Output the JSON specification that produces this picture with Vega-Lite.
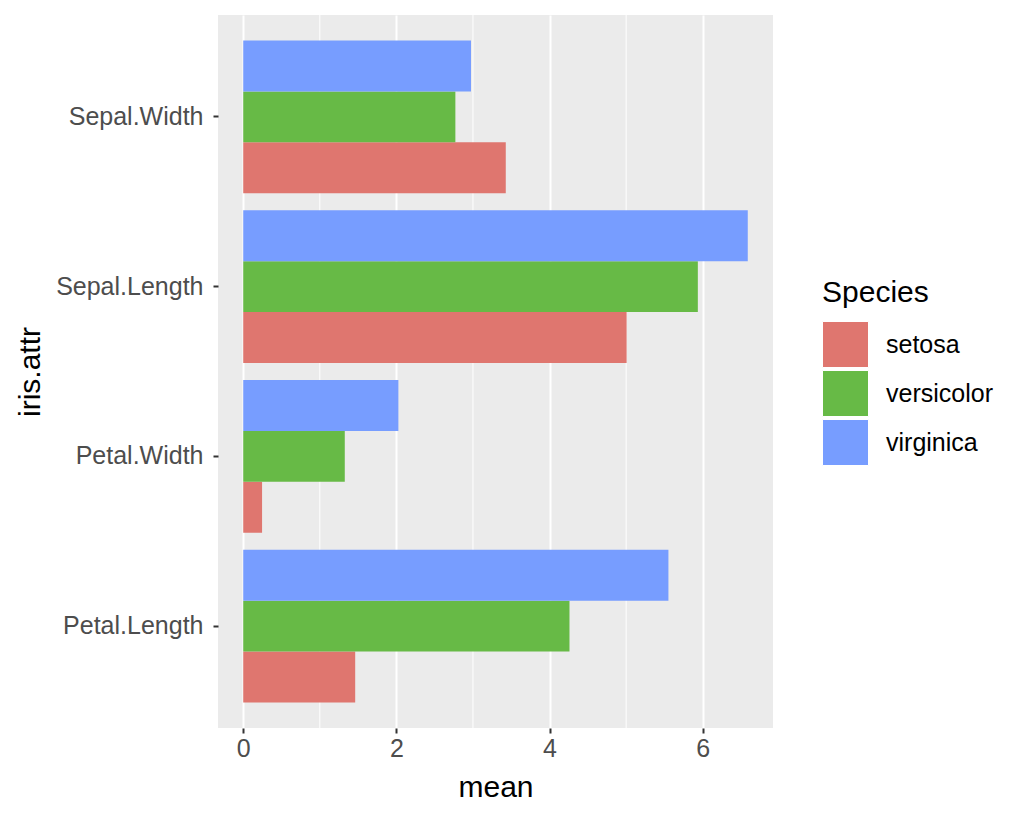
{
  "$schema": "https://vega.github.io/schema/vega-lite/v6.json",
  "width": 555,
  "height": 713,
  "autosize": {"type": "none"},
  "padding": {"left": 218, "top": 15, "right": 251, "bottom": 91},
  "background": "white",
  "config": {
    "view": {"fill": "#EBEBEB", "stroke": null},
    "font": "Liberation Sans",
    "axis": {
      "domain": false,
      "gridColor": "white",
      "gridWidth": 2,
      "tickColor": "#333333",
      "tickWidth": 2,
      "tickSize": 5,
      "labelFontSize": 25,
      "labelColor": "#4D4D4D",
      "labelFont": "Liberation Sans",
      "titleFont": "Liberation Sans",
      "titleFontSize": 30,
      "titleFontWeight": "normal",
      "titleColor": "black"
    }
  },
  "layer": [
    {
      "data": {"values": [{"minor": 1}, {"minor": 3}, {"minor": 5}]},
      "mark": {"type": "rule", "color": "white", "strokeWidth": 1},
      "encoding": {
        "x": {"field": "minor", "type": "quantitative"}
      }
    },
    {
      "data": {
        "values": [
          {"attr": "Sepal.Length", "Species": "setosa", "mean": 5.006},
          {"attr": "Sepal.Width", "Species": "setosa", "mean": 3.428},
          {"attr": "Petal.Length", "Species": "setosa", "mean": 1.462},
          {"attr": "Petal.Width", "Species": "setosa", "mean": 0.246},
          {"attr": "Sepal.Length", "Species": "versicolor", "mean": 5.936},
          {"attr": "Sepal.Width", "Species": "versicolor", "mean": 2.77},
          {"attr": "Petal.Length", "Species": "versicolor", "mean": 4.26},
          {"attr": "Petal.Width", "Species": "versicolor", "mean": 1.326},
          {"attr": "Sepal.Length", "Species": "virginica", "mean": 6.588},
          {"attr": "Sepal.Width", "Species": "virginica", "mean": 2.974},
          {"attr": "Petal.Length", "Species": "virginica", "mean": 5.552},
          {"attr": "Petal.Width", "Species": "virginica", "mean": 2.026}
        ]
      },
      "mark": {"type": "bar"},
      "encoding": {
        "y": {
          "field": "attr",
          "type": "nominal",
          "sort": ["Sepal.Width", "Sepal.Length", "Petal.Width", "Petal.Length"],
          "scale": {"paddingInner": 0.1, "paddingOuter": 0.15},
          "axis": {"title": "iris.attr", "labelPadding": 10, "titlePadding": 10}
        },
        "yOffset": {
          "field": "Species",
          "type": "nominal",
          "sort": ["virginica", "versicolor", "setosa"],
          "scale": {"paddingInner": 0, "paddingOuter": 0}
        },
        "x": {
          "field": "mean",
          "type": "quantitative",
          "stack": null,
          "scale": {"domain": [-0.3294, 6.9174], "nice": false, "zero": false},
          "axis": {"values": [0, 2, 4, 6], "title": "mean", "labelPadding": 3, "titlePadding": 11, "format": "d"}
        },
        "color": {
          "field": "Species",
          "type": "nominal",
          "scale": {
            "domain": ["setosa", "versicolor", "virginica"],
            "range": ["#DF766F", "#67BA46", "#779DFF"]
          },
          "legend": {
            "orient": "none",
            "legendX": 604,
            "legendY": 263,
            "title": "Species",
            "titleFont": "Liberation Sans",
            "titleFontSize": 30,
            "titleFontWeight": "normal",
            "titleColor": "black",
            "titlePadding": 13,
            "labelFont": "Liberation Sans",
            "labelFontSize": 25,
            "labelColor": "black",
            "labelOffset": 17,
            "symbolType": "square",
            "symbolSize": 2116,
            "symbolStrokeColor": "white",
            "symbolStrokeWidth": 1,
            "symbolOpacity": 1,
            "rowPadding": -3
          }
        }
      }
    }
  ]
}
